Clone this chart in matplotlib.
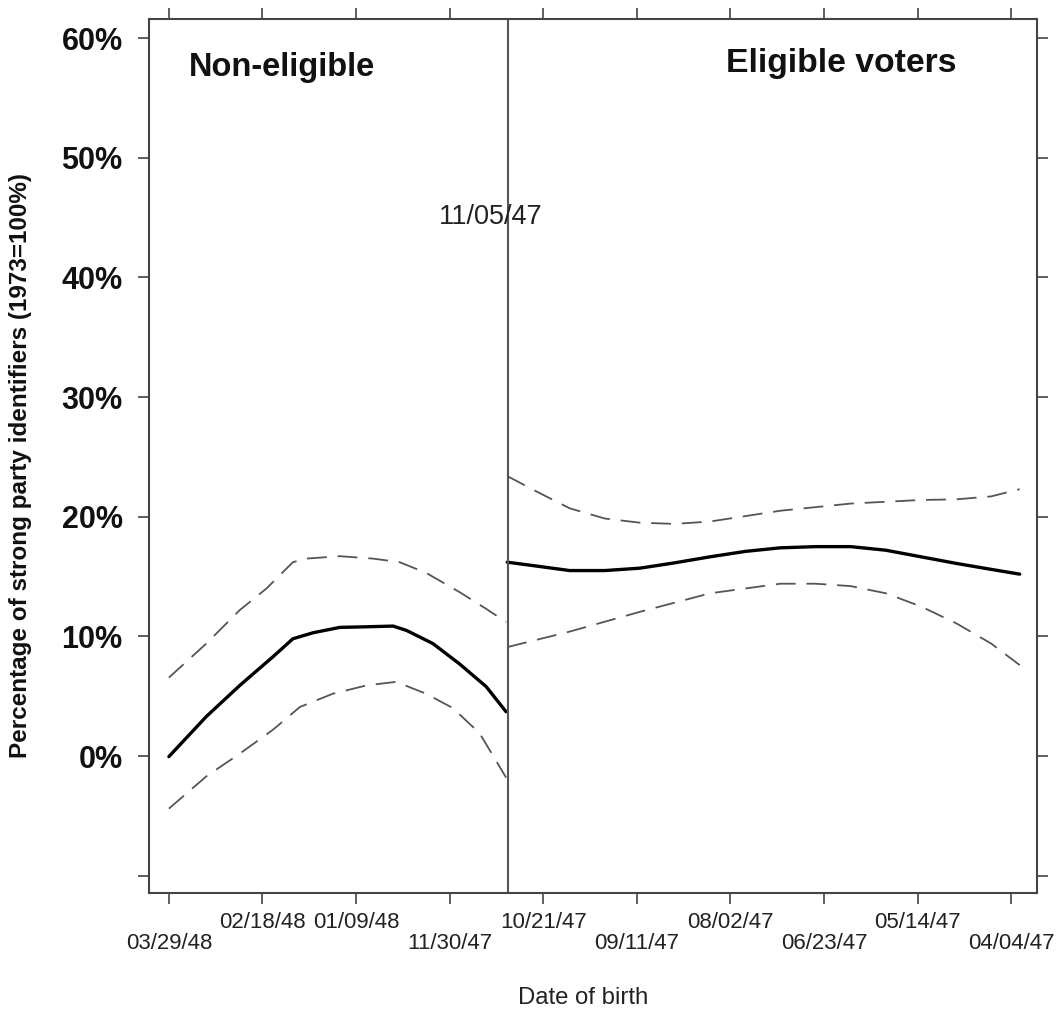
import matplotlib
matplotlib.use("Agg")
import matplotlib.pyplot as plt

plt.rcParams['font.family'] = ['Liberation Sans', 'DejaVu Sans']

# x = days before 03/29/48 (axis runs backward in time)
tick_days = [0, 40, 80, 120, 160, 200, 240, 280, 320, 360]
tick_labels = ["03/29/48", "02/18/48", "01/09/48", "11/30/47", "10/21/47",
               "09/11/47", "08/02/47", "06/23/47", "05/14/47", "04/04/47"]
label_row = [1, 0, 0, 1, 0, 1, 0, 1, 0, 1]  # 1 = lower row
cutoff_day = 145
cutoff_label = "11/05/47"

y_ticks = [-10, 0, 10, 20, 30, 40, 50, 60]
y_ticklabels = ["", "0%", "10%", "20%", "30%", "40%", "50%", "60%"]

# Non-eligible side
left_x = [0, 16, 30.3, 44.5, 53, 61.6, 73, 84.4, 95.8, 101.5, 112.8, 124.2, 135.6, 144.1]
left_fit = [-0.05, 3.3, 5.9, 8.3, 9.8, 10.3, 10.75, 10.8, 10.86, 10.5, 9.4, 7.7, 5.8, 3.7]
left_up_x = [0, 16, 30.3, 41.7, 53, 58.8, 73, 87.2, 98.6, 110, 124.2, 135.6, 144.1]
left_up = [6.55, 9.4, 12.2, 14.0, 16.2, 16.5, 16.7, 16.5, 16.2, 15.3, 13.7, 12.3, 11.2]
left_lo_x = [0, 16, 30.3, 44.5, 56, 70, 84.4, 97.1, 110, 121.4, 132.8, 144.1]
left_lo = [-4.4, -1.7, 0.2, 2.2, 4.1, 5.2, 5.9, 6.2, 5.2, 4.0, 1.9, -1.8]

# Eligible side
right_x = [144.6, 156.2, 171.3, 186.3, 201.3, 216.3, 231.3, 246.3, 261.3, 276.4,
           291.4, 306.4, 321.4, 336.4, 351.4, 363.6]
right_fit = [16.2, 15.9, 15.5, 15.5, 15.7, 16.15, 16.65, 17.1, 17.4, 17.5,
             17.5, 17.2, 16.65, 16.1, 15.6, 15.2]
right_up = [23.4, 22.2, 20.7, 19.85, 19.5, 19.4, 19.6, 20.05, 20.5, 20.8,
            21.1, 21.25, 21.4, 21.45, 21.7, 22.3]
right_lo_x = [144.6, 171.3, 201.3, 231.3, 261.3, 276.4, 291.4, 306.4, 321.4, 336.4, 351.4, 363.6]
right_lo = [9.1, 10.4, 12.05, 13.6, 14.4, 14.4, 14.2, 13.6, 12.5, 11.1, 9.4, 7.6]

fig = plt.figure(figsize=(10.58, 10.11), dpi=100)
ax = fig.add_axes([149/1058, 1 - 893/1011, (1037-149)/1058, (893-19)/1011])

dash_kw = dict(color="#555555", lw=1.3, linestyle=(0, (11, 6)))
solid_kw = dict(color="black", lw=2.4, solid_capstyle="round", solid_joinstyle="round")

ax.plot(left_x, left_fit, **solid_kw)
ax.plot(left_up_x, left_up, **dash_kw)
ax.plot(left_lo_x, left_lo, **dash_kw)
ax.plot(right_x, right_fit, **solid_kw)
ax.plot(right_x, right_up, **dash_kw)
ax.plot(right_lo_x, right_lo, **dash_kw)

ax.axvline(cutoff_day, color="#555555", lw=1.5)

ax.set_xlim(-8.5, 371)
ax.set_ylim(-11.45, 61.6)

ax.set_xticks(tick_days)
ax.set_xticklabels([("\n" + t) if r else t for t, r in zip(tick_labels, label_row)],
                   fontsize=16, color="#222222", linespacing=0.95)
ax.set_yticks(y_ticks)
ax.set_yticklabels(y_ticklabels, fontsize=22, fontweight="bold", color="#111111")

ax.tick_params(axis="x", direction="out", length=8, width=1.2, color="#444444",
               pad=6, top=True, labeltop=False)
ax.tick_params(axis="y", direction="out", length=8, width=1.2, color="#444444",
               pad=11, right=True, labelright=False)
for s in ax.spines.values():
    s.set_color("#444444")
    s.set_linewidth(1.5)

ax.text(48.5, 56.8, "Non-eligible", fontsize=23.5, fontweight="bold", ha="center",
        va="baseline", color="#111111")
ax.text(287.5, 57.2, "Eligible voters", fontsize=24.3, fontweight="bold", ha="center",
        va="baseline", color="#111111")
ax.text(137.5, 44.5, cutoff_label, fontsize=19.5, ha="center", va="baseline", color="#222222")

ax.set_ylabel("Percentage of strong party identifiers (1973=100%)", fontsize=17.5,
              fontweight="bold", color="#111111")
ax.yaxis.set_label_coords(-0.145, 0.4886)
ax.yaxis.label.set_verticalalignment("center")
ax.set_xlabel("Date of birth", fontsize=17.2, color="#222222")
ax.xaxis.set_label_coords(0.4887, -0.12)
ax.xaxis.label.set_verticalalignment("center")

fig.savefig("out.png", dpi=100)
